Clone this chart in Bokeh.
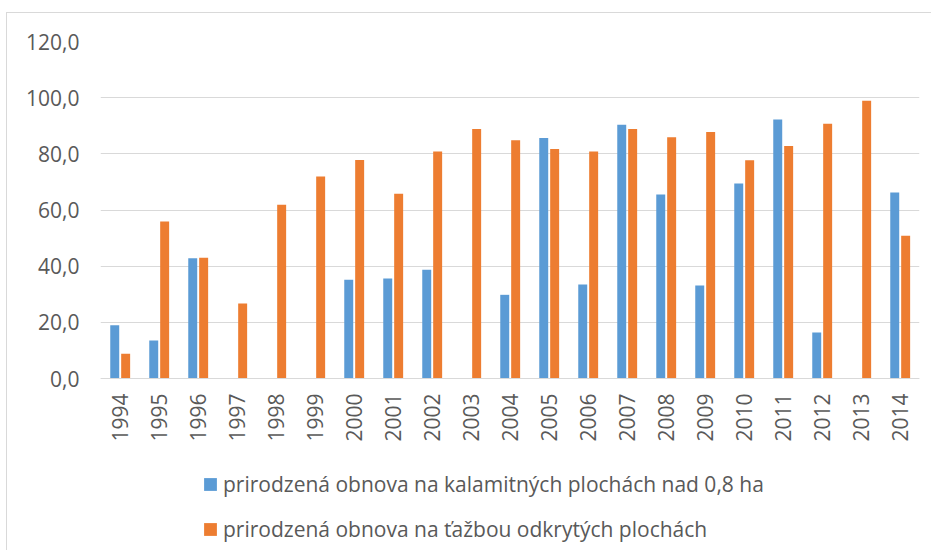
import math
import numpy as np
from bokeh.plotting import figure
from bokeh.models import (ColumnDataSource, FactorRange, Range1d, Legend, LegendItem,
                          CustomJSTickFormatter, FixedTicker, CategoricalAxis)
from bokeh.transform import dodge
from bokeh.embed import file_html
from bokeh.resources import INLINE

years = [str(y) for y in range(1994, 2015)]
kalamita = [19.0, 13.5, 42.8, np.nan, np.nan, np.nan, 35.2, 35.6, 38.7, np.nan, 29.8,
            85.6, 33.5, 90.4, 65.5, 33.1, 69.4, 92.2, 16.4, np.nan, 66.2]
tazba = [8.8, 55.9, 43.0, 26.7, 61.9, 71.9, 77.8, 65.8, 80.8, 88.8, 84.8,
         81.7, 80.8, 88.8, 85.9, 87.8, 77.7, 82.8, 90.7, 98.9, 50.8]
y_ticks = [0, 20, 40, 60, 80, 100, 120]
label_blue = "prirodzená obnova na kalamitných plochách nad 0,8 ha"
label_orange = "prirodzená obnova na ťažbou odkrytých plochách"

BLUE = "#5B9BD5"
ORANGE = "#ED7D31"
TEXT = "#595959"
GRID = "#D9D9D9"
FONT = "Open Sans"

src = ColumnDataSource(dict(year=years, a=kalamita, b=tazba))

# frame spans page y 41..551; value 0 sits at page y 378 (legend lives below it inside the frame)
p = figure(width=925, height=538, x_range=FactorRange(*years), y_range=Range1d(-61.6, 120),
           output_backend="svg", toolbar_location=None, x_axis_location=None,
           min_border_left=93, min_border_right=13, min_border_top=28, min_border_bottom=0,
           styles={"border-left": "1px solid #D9D9D9", "border-top": "1px solid #D9D9D9",
                   "margin-left": "6px", "margin-top": "12px"})
p.outline_line_color = None
p.background_fill_color = "white"

r1 = p.vbar(x=dodge("year", -0.135, range=p.x_range), top="a", width=0.23, source=src,
            fill_color=BLUE, line_color=None)
r2 = p.vbar(x=dodge("year", 0.145, range=p.x_range), top="b", width=0.23, source=src,
            fill_color=ORANGE, line_color=None)

p.xgrid.grid_line_color = None
p.ygrid.grid_line_color = GRID
p.ygrid.grid_line_width = 1

p.yaxis.ticker = FixedTicker(ticks=y_ticks)
p.yaxis.formatter = CustomJSTickFormatter(code="return tick.toFixed(1).replace('.', ',');")
p.yaxis.axis_line_color = None
p.yaxis.major_tick_line_color = None
p.yaxis.minor_tick_line_color = None
p.yaxis.major_tick_in = 0
p.yaxis.major_tick_out = 0
p.yaxis.major_label_standoff = 21
p.yaxis.major_label_text_font = FONT
p.yaxis.major_label_text_font_size = "21px"
p.yaxis.major_label_text_color = TEXT

xaxis = CategoricalAxis(fixed_location=0)
xaxis.axis_line_color = GRID
xaxis.major_tick_line_color = None
xaxis.major_tick_in = 0
xaxis.major_tick_out = 0
xaxis.major_label_orientation = math.pi / 2
xaxis.major_label_standoff = 15
xaxis.major_label_text_font = FONT
xaxis.major_label_text_font_size = "21px"
xaxis.major_label_text_color = TEXT
p.add_layout(xaxis, "below")

legend = Legend(items=[LegendItem(label=label_blue, renderers=[r1]),
                       LegendItem(label=label_orange, renderers=[r2])],
                location=(102, 8), orientation="vertical")
legend.border_line_color = None
legend.background_fill_alpha = 0
legend.padding = 0
legend.margin = 0
legend.spacing = 17
legend.glyph_width = 16
legend.glyph_height = 16
legend.label_height = 20
legend.label_standoff = 5
legend.label_text_font = FONT
legend.label_text_font_size = "21px"
legend.label_text_color = TEXT
p.add_layout(legend, "center")

open("out.html", "w").write(file_html(p, INLINE))
